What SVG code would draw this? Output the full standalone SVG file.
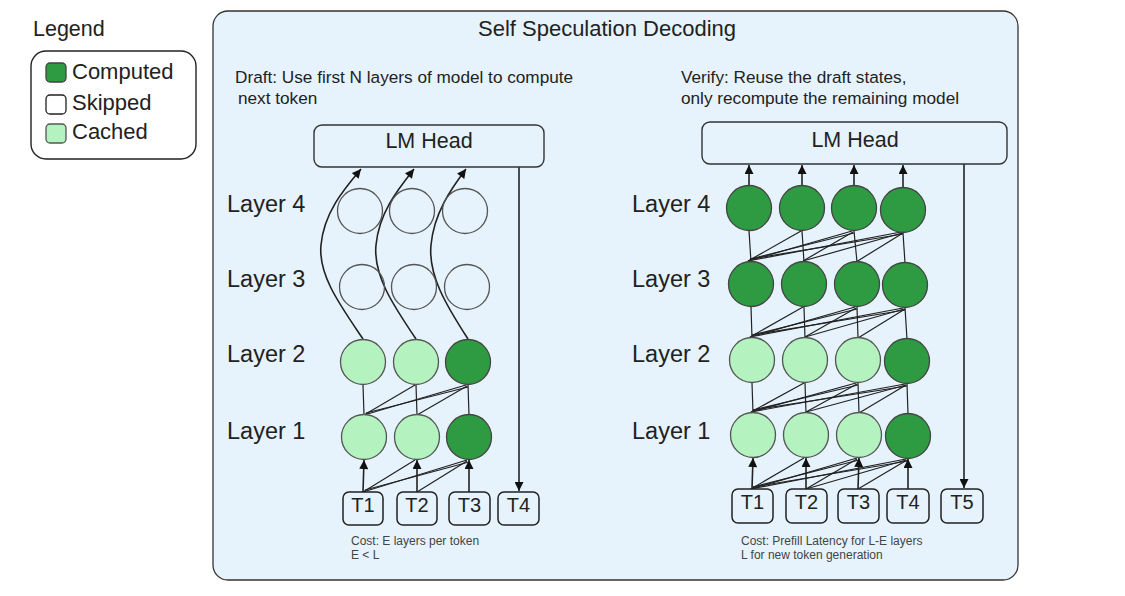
<svg xmlns="http://www.w3.org/2000/svg" width="1125" height="596" viewBox="0 0 1125 596">
<defs>
<style>
text{font-family:"Liberation Sans",Arial,Helvetica,sans-serif;fill:#222}
.panel{fill:#e6f3fc;stroke:#333;stroke-width:1.3}
.box{fill:#e6f3fc;stroke:#333;stroke-width:1.4}
.tok{fill:#e6f3fc;stroke:#222;stroke-width:1.5}
.comp{fill:#2e9b43;stroke:#444;stroke-width:1.3}
.cach{fill:#b4f2c0;stroke:#555;stroke-width:1.3}
.skip{fill:none;stroke:#555;stroke-width:1.3}
.ln{fill:none;stroke:#222;stroke-width:1.2}
.ar{fill:none;stroke:#222;stroke-width:1.6;marker-end:url(#ah)}
.lbl{font-size:23.5px}
.tt{font-size:20px;text-anchor:middle}
.cost{font-size:12px;fill:#444}
</style>
<marker id="ah" viewBox="0 0 10 10" refX="10" refY="5" markerWidth="10" markerHeight="9" markerUnits="userSpaceOnUse" orient="auto">
<path d="M0,0 L10,5 L0,10 z" fill="#111"/>
</marker>
</defs>
<rect width="1125" height="596" fill="#ffffff"/>

<g id="legend">
<text x="33" y="36" font-size="21.5">Legend</text>
<rect x="31" y="51" width="165" height="108" rx="15" fill="#fff" stroke="#222" stroke-width="1.4"/>
<rect x="46" y="63" width="20" height="19" rx="4" class="comp" stroke="#222"/>
<text x="72" y="79" font-size="22">Computed</text>
<rect x="46" y="95" width="20" height="19" rx="4" fill="#fff" stroke="#222" stroke-width="1.3"/>
<text x="72" y="110" font-size="22">Skipped</text>
<rect x="46" y="124" width="20" height="19" rx="4" class="cach" stroke="#222"/>
<text x="72" y="139" font-size="22">Cached</text>
</g>

<g id="panel">
<rect x="213" y="11" width="805" height="569" rx="15" class="panel"/>
<text x="607" y="36" font-size="22" text-anchor="middle">Self Speculation Decoding</text>
<text x="235" y="83" font-size="17.2">Draft: Use first N layers of model to compute</text>
<text x="238" y="104" font-size="17.2">next token</text>
<text x="681" y="83" font-size="17.2">Verify: Reuse the draft states,</text>
<text x="681" y="104" font-size="17.2">only recompute the remaining model</text>
</g>

<g id="connectors">
<!-- left: curves L2 -> LM head -->
<path class="ar" stroke-width="1.3" d="M363,339 C340,305 318,275 321,245 C324,212 345,188 361,169"/>
<path class="ar" stroke-width="1.3" d="M416,339 C393,305 373,275 376,245 C379,212 399,188 414,169"/>
<path class="ar" stroke-width="1.3" d="M468,339 C446,305 428,275 431,245 C434,212 452,188 466,169"/>
<!-- left: LM head -> T4 -->
<line class="ar" stroke-width="1.3" x1="519" y1="167" x2="519" y2="491"/>
<!-- left: L1 -> L2 -->
<line class="ln" x1="364" y1="415" x2="363" y2="385"/>
<line class="ln" x1="417" y1="415" x2="416" y2="385"/>
<line class="ln" x1="469" y1="415" x2="468" y2="385"/>
<line class="ln" x1="364" y1="415" x2="415" y2="385"/>
<line class="ln" x1="364" y1="415" x2="466" y2="385"/>
<line class="ln" x1="366" y1="413" x2="468" y2="387"/>
<line class="ln" x1="417" y1="415" x2="467" y2="386"/>
<!-- left: tokens -> L1 -->
<line class="ar" x1="363" y1="492" x2="364" y2="460"/>
<line class="ar" x1="417" y1="492" x2="417" y2="460"/>
<line class="ar" x1="469" y1="492" x2="469" y2="460"/>
<line class="ln" x1="363" y1="492" x2="415" y2="460"/>
<line class="ln" x1="363" y1="492" x2="467" y2="460"/>
<line class="ln" x1="365" y1="490" x2="469" y2="462"/>
<line class="ln" x1="417" y1="492" x2="467" y2="461"/>

<!-- right: L4 -> LM head -->
<line class="ar" x1="749" y1="186" x2="749" y2="165"/>
<line class="ar" x1="802" y1="186" x2="802" y2="165"/>
<line class="ar" x1="854" y1="186" x2="854" y2="165"/>
<line class="ar" x1="903" y1="188" x2="903" y2="165"/>
<!-- right: LM head -> T5 -->
<line class="ar" stroke-width="1.3" x1="964" y1="164" x2="964" y2="488"/>
<!-- right: L3 -> L4 -->
<line class="ln" x1="751" y1="262" x2="749" y2="231"/>
<line class="ln" x1="804" y1="262" x2="802" y2="231"/>
<line class="ln" x1="857" y1="262" x2="854" y2="231"/>
<line class="ln" x1="905" y1="263" x2="903" y2="233"/>
<line class="ln" x1="748" y1="261" x2="801" y2="231"/>
<line class="ln" x1="748" y1="261" x2="852" y2="231"/>
<line class="ln" x1="750" y1="259" x2="854" y2="233"/>
<line class="ln" x1="748" y1="261" x2="901" y2="232"/>
<line class="ln" x1="750" y1="259" x2="903" y2="234"/>
<line class="ln" x1="803" y1="261" x2="853" y2="232"/>
<line class="ln" x1="803" y1="261" x2="902" y2="233"/>
<line class="ln" x1="856" y1="262" x2="903" y2="233"/>
<!-- right: L2 -> L3 -->
<line class="ln" x1="752" y1="338" x2="751" y2="307"/>
<line class="ln" x1="805" y1="338" x2="804" y2="307"/>
<line class="ln" x1="858" y1="338" x2="857" y2="307"/>
<line class="ln" x1="907" y1="339" x2="905" y2="308"/>
<line class="ln" x1="750" y1="337" x2="803" y2="307"/>
<line class="ln" x1="750" y1="337" x2="855" y2="307"/>
<line class="ln" x1="752" y1="335" x2="857" y2="309"/>
<line class="ln" x1="750" y1="337" x2="903" y2="308"/>
<line class="ln" x1="752" y1="335" x2="905" y2="310"/>
<line class="ln" x1="805" y1="337" x2="856" y2="308"/>
<line class="ln" x1="805" y1="337" x2="904" y2="309"/>
<line class="ln" x1="858" y1="338" x2="905" y2="309"/>
<!-- right: L1 -> L2 -->
<line class="ln" x1="753" y1="413" x2="752" y2="383"/>
<line class="ln" x1="806" y1="413" x2="805" y2="383"/>
<line class="ln" x1="859" y1="413" x2="858" y2="383"/>
<line class="ln" x1="908" y1="414" x2="907" y2="384"/>
<line class="ln" x1="751" y1="412" x2="804" y2="383"/>
<line class="ln" x1="751" y1="412" x2="856" y2="383"/>
<line class="ln" x1="753" y1="410" x2="858" y2="385"/>
<line class="ln" x1="751" y1="412" x2="905" y2="384"/>
<line class="ln" x1="753" y1="410" x2="907" y2="386"/>
<line class="ln" x1="806" y1="412" x2="857" y2="384"/>
<line class="ln" x1="806" y1="412" x2="906" y2="385"/>
<line class="ln" x1="859" y1="413" x2="906" y2="385"/>
<!-- right: tokens -> L1 -->
<line class="ar" x1="752" y1="489" x2="753" y2="458"/>
<line class="ar" x1="806" y1="489" x2="806" y2="458"/>
<line class="ar" x1="858" y1="489" x2="859" y2="458"/>
<line class="ar" x1="908" y1="489" x2="908" y2="459"/>
<line class="ln" x1="751" y1="489" x2="804" y2="458"/>
<line class="ln" x1="751" y1="489" x2="857" y2="458"/>
<line class="ln" x1="753" y1="487" x2="859" y2="460"/>
<line class="ln" x1="751" y1="489" x2="906" y2="459"/>
<line class="ln" x1="753" y1="487" x2="908" y2="461"/>
<line class="ln" x1="806" y1="489" x2="857" y2="459"/>
<line class="ln" x1="806" y1="489" x2="906" y2="460"/>
<line class="ln" x1="858" y1="489" x2="907" y2="460"/>
</g>

<g id="left-lmhead">
<rect x="314" y="125" width="230" height="42" rx="8" class="box"/>
<text x="429" y="148" font-size="21.5" text-anchor="middle">LM Head</text>
</g>
<g id="right-lmhead">
<rect x="702" y="122" width="305" height="42" rx="8" class="box"/>
<text x="855" y="147" font-size="21.5" text-anchor="middle">LM Head</text>
</g>

<g id="left-labels">
<text x="227" y="212" class="lbl">Layer 4</text>
<text x="227" y="287" class="lbl">Layer 3</text>
<text x="227" y="362" class="lbl">Layer 2</text>
<text x="227" y="439" class="lbl">Layer 1</text>
</g>
<g id="right-labels">
<text x="632" y="212" class="lbl">Layer 4</text>
<text x="632" y="287" class="lbl">Layer 3</text>
<text x="632" y="362" class="lbl">Layer 2</text>
<text x="632" y="439" class="lbl">Layer 1</text>
</g>

<g id="left-nodes">
<g id="L-l4c1"><circle cx="360" cy="211" r="22.5" class="skip"/></g>
<g id="L-l4c2"><circle cx="412" cy="211" r="22.5" class="skip"/></g>
<g id="L-l4c3"><circle cx="465" cy="211" r="22.5" class="skip"/></g>
<g id="L-l3c1"><circle cx="362" cy="287" r="22.5" class="skip"/></g>
<g id="L-l3c2"><circle cx="414" cy="287" r="22.5" class="skip"/></g>
<g id="L-l3c3"><circle cx="467" cy="287" r="22.5" class="skip"/></g>
<g id="L-l2c1"><circle cx="363" cy="362" r="22.5" class="cach"/></g>
<g id="L-l2c2"><circle cx="416" cy="362" r="22.5" class="cach"/></g>
<g id="L-l2c3"><circle cx="468" cy="362" r="22.5" class="comp"/></g>
<g id="L-l1c1"><circle cx="364" cy="437" r="22.5" class="cach"/></g>
<g id="L-l1c2"><circle cx="417" cy="437" r="22.5" class="cach"/></g>
<g id="L-l1c3"><circle cx="469" cy="437" r="22.5" class="comp"/></g>
</g>

<g id="right-nodes">
<g id="R-l4c1"><circle cx="749" cy="208" r="22.5" class="comp"/></g>
<g id="R-l4c2"><circle cx="802" cy="208" r="22.5" class="comp"/></g>
<g id="R-l4c3"><circle cx="854" cy="208" r="22.5" class="comp"/></g>
<g id="R-l4c4"><circle cx="903" cy="210" r="22.5" class="comp"/></g>
<g id="R-l3c1"><circle cx="751" cy="284" r="22.5" class="comp"/></g>
<g id="R-l3c2"><circle cx="804" cy="284" r="22.5" class="comp"/></g>
<g id="R-l3c3"><circle cx="857" cy="284" r="22.5" class="comp"/></g>
<g id="R-l3c4"><circle cx="905" cy="285" r="22.5" class="comp"/></g>
<g id="R-l2c1"><circle cx="752" cy="360" r="22.5" class="cach"/></g>
<g id="R-l2c2"><circle cx="805" cy="360" r="22.5" class="cach"/></g>
<g id="R-l2c3"><circle cx="858" cy="360" r="22.5" class="cach"/></g>
<g id="R-l2c4"><circle cx="907" cy="361" r="22.5" class="comp"/></g>
<g id="R-l1c1"><circle cx="753" cy="435" r="22.5" class="cach"/></g>
<g id="R-l1c2"><circle cx="806" cy="435" r="22.5" class="cach"/></g>
<g id="R-l1c3"><circle cx="859" cy="435" r="22.5" class="cach"/></g>
<g id="R-l1c4"><circle cx="908" cy="436" r="22.5" class="comp"/></g>
</g>

<g id="left-tokens">
<g id="L-T1"><rect x="343" y="492" width="40" height="33" rx="6" class="tok"/><text x="363" y="512" class="tt">T1</text></g>
<g id="L-T2"><rect x="397" y="492" width="40" height="33" rx="6" class="tok"/><text x="417" y="512" class="tt">T2</text></g>
<g id="L-T3"><rect x="449" y="492" width="41" height="33" rx="6" class="tok"/><text x="469.5" y="512" class="tt">T3</text></g>
<g id="L-T4"><rect x="498" y="492" width="41" height="33" rx="6" class="tok"/><text x="518.5" y="512" class="tt">T4</text></g>
</g>
<g id="right-tokens">
<g id="R-T1"><rect x="732" y="489" width="41" height="34" rx="6" class="tok"/><text x="752.5" y="509" class="tt">T1</text></g>
<g id="R-T2"><rect x="786" y="489" width="41" height="34" rx="6" class="tok"/><text x="806.5" y="509" class="tt">T2</text></g>
<g id="R-T3"><rect x="838" y="489" width="41" height="34" rx="6" class="tok"/><text x="858.5" y="509" class="tt">T3</text></g>
<g id="R-T4"><rect x="887" y="489" width="42" height="34" rx="6" class="tok"/><text x="908" y="509" class="tt">T4</text></g>
<g id="R-T5"><rect x="941" y="489" width="42" height="34" rx="6" class="tok"/><text x="962" y="509" class="tt">T5</text></g>
</g>

<g id="costs">
<text x="351" y="545" class="cost">Cost: E layers per token</text>
<text x="351" y="559" class="cost">E &lt; L</text>
<text x="741" y="545" class="cost">Cost: Prefill Latency for L-E layers</text>
<text x="741" y="559" class="cost">L for new token generation</text>
</g>
</svg>
